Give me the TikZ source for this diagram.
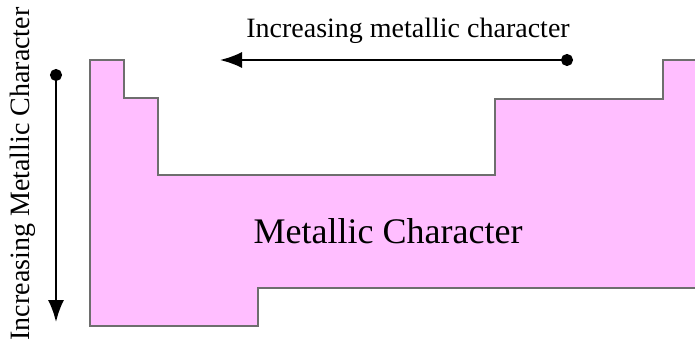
\documentclass[tikz,border=0pt]{standalone}
\usepackage{fontspec}
\setmainfont{Liberation Serif}
\usetikzlibrary{arrows.meta}
\definecolor{metalpink}{HTML}{FFBEFF}
\definecolor{edgegrey}{HTML}{6E6E6E}

\begin{document}
\begin{tikzpicture}[x = 1pt, y = -1pt]
	\useasboundingbox (0,0) rectangle (695,339);
	\draw[edgegrey, fill = metalpink, line width = 1.5pt] (90,60) -- (124,60) -- (124,98) -- (158,98) -- (158,175) -- (495,175) -- (495,99) -- (663,99) -- (663,60) -- (697,60) -- (697,288) -- (258,288) -- (258,326) -- (90,326) -- cycle;
	\node[font = \fontsize{36}{36}\selectfont] (lab) at (388,231) {Metallic Character};
	\coordinate (hstart) at (573,60);
	\coordinate (hend) at (220,60);
	\coordinate (vstart) at (56,69);
	\coordinate (vend) at (56,322);
	\draw[{Circle[length = 12pt]}-{Latex[length = 22pt, width = 16pt]}, line width = 2pt] (hstart) -- (hend);
	\draw[{Circle[length = 12pt]}-{Latex[length = 22pt, width = 16pt]}, line width = 2pt] (vstart) -- (vend);
	\node[font = \fontsize{28}{28}\selectfont] (hlab) at (408,31) {Increasing metallic character};
	\node[font = \fontsize{28}{28}\selectfont, rotate = 90] (vlab) at (23,174) {Increasing Metallic Character};
\end{tikzpicture}
\end{document}
